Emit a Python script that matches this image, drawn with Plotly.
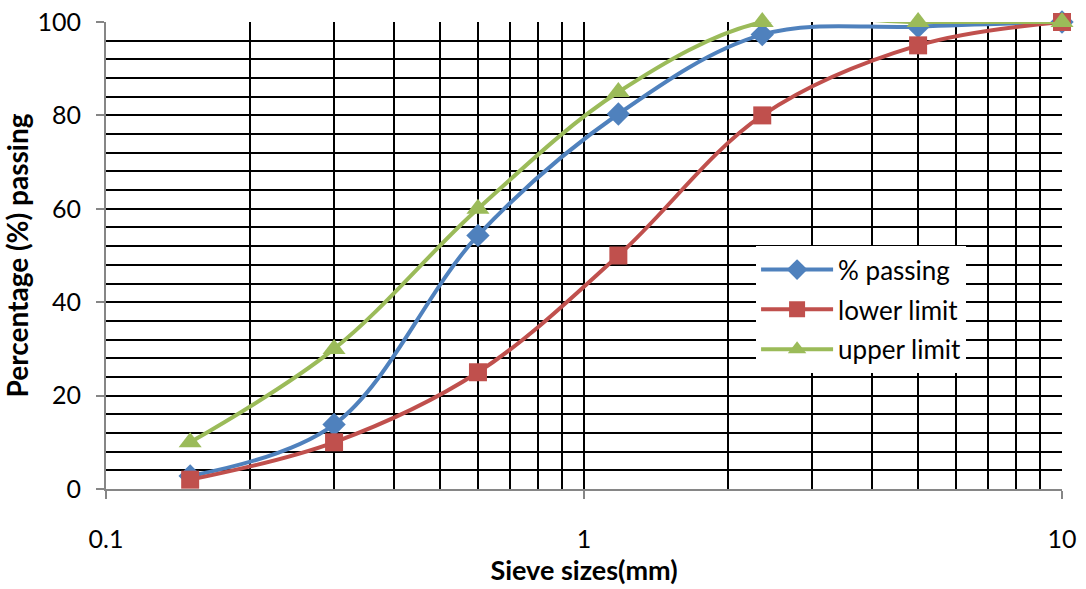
import plotly.graph_objects as go

# Sieve analysis data
sieve_mm = [0.15, 0.3, 0.6, 1.18, 2.36, 5, 10]
pct_passing = [2.8, 13.8, 54.3, 80.3, 97.3, 99.0, 100]
lower_limit = [2, 10, 25, 50, 80, 95, 100]
upper_limit = [10, 30, 60, 85, 100, 100, 100]

x_tick_vals = [0.1, 1, 10]
x_tick_text = ["0.1", "1", "10"]

FONT = "Lato"

fig = go.Figure()

series = [
    ("% passing", pct_passing, "#4F81BD", "diamond", 18),
    ("lower limit", lower_limit, "#C0504D", "square", 18),
    ("upper limit", upper_limit, "#9BBB59", "triangle-up", 20),
]
for name, vals, color, symbol, size in series:
    fig.add_trace(go.Scatter(
        x=sieve_mm, y=vals, name=name, mode="lines+markers",
        legendgroup=name,
        line=dict(color=color, width=4, shape="spline", smoothing=1.0),
        marker=dict(symbol=symbol, size=size, color=color),
        cliponaxis=False,
    ))

fig.update_layout(
    width=1086, height=589,
    margin=dict(l=106, r=24, t=22, b=100, autoexpand=False),
    paper_bgcolor="white", plot_bgcolor="white",
    font=dict(family=FONT, color="black", size=25),
    showlegend=True,
    legend=dict(
        x=0.68, y=0.52, xanchor="left", yanchor="top",
        bgcolor="white", borderwidth=0,
        font=dict(family=FONT, size=26, color="black"),
        itemwidth=72, traceorder="grouped", tracegroupgap=3,
    ),
    xaxis=dict(
        type="log", range=[-1, 1], automargin=False,
        tickvals=x_tick_vals, ticktext=x_tick_text,
        showgrid=True, gridcolor="black", gridwidth=1.5,
        minor=dict(dtick="D1", showgrid=True, gridcolor="black", gridwidth=1.5,
                   ticks=""),
        showline=True, linecolor="#868686", linewidth=2,
        ticks="outside", ticklen=8, tickcolor="#868686", tickwidth=2,
        ticklabelstandoff=19,
        tickfont=dict(size=25),
        title=dict(text="<b>Sieve sizes(mm)</b>", font=dict(size=27), standoff=6),
        zeroline=False,
    ),
    yaxis=dict(
        range=[0, 100], dtick=20, automargin=False,
        showgrid=True, gridcolor="black", gridwidth=1.5,
        minor=dict(dtick=4, showgrid=True, gridcolor="black", gridwidth=1.5,
                   ticks=""),
        showline=True, linecolor="#868686", linewidth=2,
        ticks="outside", ticklen=8, tickcolor="#868686", tickwidth=2,
        ticklabelstandoff=10,
        tickfont=dict(size=25),
        title=dict(text="<b>Percentage (%) passing</b>", font=dict(size=28), standoff=4),
        zeroline=False,
    ),
)

fig.write_html("out.html")
